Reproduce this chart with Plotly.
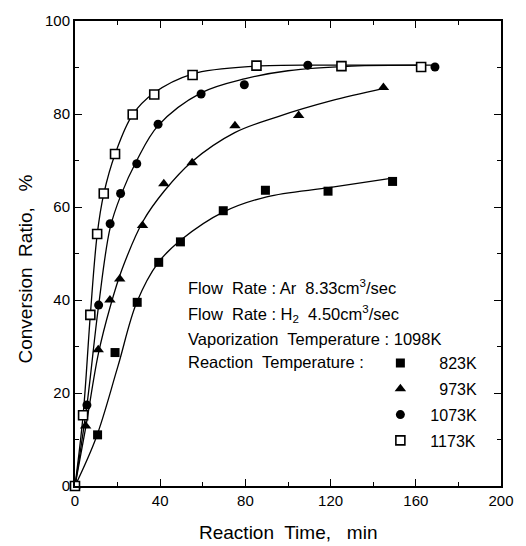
import plotly.graph_objects as go

# Measured points
# 823K (filled squares)
t823 = [0, 10.6, 18.8, 29.2, 39.3, 49.5, 69.6, 89.4, 118.8, 149.1]
c823 = [0, 11.0, 28.7, 39.5, 48.1, 52.5, 59.2, 63.6, 63.4, 65.5]
# 973K (filled triangles)
t973 = [0, 5.0, 10.9, 16.4, 21.0, 31.7, 41.7, 55.0, 75.1, 105.0, 144.8]
c973 = [0, 12.9, 29.3, 40.0, 44.5, 56.0, 65.0, 69.5, 77.5, 79.7, 85.7]
# 1073K (filled circles)
t1073 = [0, 5.6, 11.1, 16.5, 21.4, 29.0, 39.0, 59.2, 79.5, 109.3, 169.0]
c1073 = [0, 17.4, 38.9, 56.4, 62.9, 69.3, 77.8, 84.3, 86.3, 90.5, 90.1]
# 1173K (open squares)
t1173 = [0, 3.8, 7.2, 10.4, 13.5, 18.8, 27.1, 37.2, 55.2, 85.2, 125.1, 162.5]
c1173 = [0, 15.2, 36.8, 54.2, 62.9, 71.4, 79.9, 84.2, 88.4, 90.4, 90.3, 90.1]

# Fitted curves
fit823_t = [0, 10, 20, 29, 39, 50, 70, 90, 120, 149]
fit823_c = [0, 10.5, 25.5, 39.5, 48, 53, 59, 62.2, 64.2, 66.2]
fit973_t = [0, 5, 11, 16.5, 22, 32, 42, 55, 75, 95, 120, 145]
fit973_c = [0, 12.5, 28.5, 38.5, 46.5, 57, 63.5, 69.8, 76, 79.4, 82.8, 85.5]
fit1073_t = [0, 5.6, 11, 16.5, 21.5, 29, 39, 59, 80, 100, 130, 169]
fit1073_c = [0, 17.4, 38.5, 55.5, 62.5, 70, 77.5, 84.5, 87.6, 89.3, 90.3, 90.5]
fit1173_t = [0, 3.8, 7.2, 10.4, 13.5, 19, 27, 37, 55, 85, 125, 163]
fit1173_c = [0, 15.2, 36.8, 54, 62.8, 71.6, 79.8, 84.5, 88.6, 90.3, 90.5, 90.5]

labels = ["\u2007823K", "\u2007973K", "1073K", "1173K"]
xticks = [0, 40, 80, 120, 160, 200]
yticks = [0, 20, 40, 60, 80, 100]

FONT = "Arial, Liberation Sans, sans-serif"

series = [
    (t823, c823, fit823_t, fit823_c, labels[0], dict(symbol="square", size=9, color="black")),
    (t973, c973, fit973_t, fit973_c, labels[1], dict(symbol="triangle-up", size=10, color="black")),
    (t1073, c1073, fit1073_t, fit1073_c, labels[2], dict(symbol="circle", size=9, color="black")),
    (t1173, c1173, fit1173_t, fit1173_c, labels[3],
     dict(symbol="square", size=9, color="white", line=dict(width=1.6, color="black"))),
]

fig = go.Figure()
for i, (x, y, fx, fy, name, mk) in enumerate(series):
    fig.add_trace(go.Scatter(
        x=fx, y=fy, mode="lines", showlegend=False, hoverinfo="skip",
        line=dict(color="black", width=1.3, shape="spline", smoothing=1.0),
        cliponaxis=False,
    ))
for i, (x, y, fx, fy, name, mk) in enumerate(series):
    fig.add_trace(go.Scatter(
        x=x, y=y, name=name, mode="markers",
        marker=mk, cliponaxis=False, legendgroup=f"g{i}",
    ))

axis_common = dict(
    showline=True, linecolor="black", linewidth=2, mirror="ticks",
    ticks="inside", ticklen=7, tickwidth=1.3, tickcolor="black",
    showgrid=False, zeroline=False,
    tickfont=dict(family=FONT, size=15, color="black"),
)

fig.update_xaxes(range=[0, 200], tickvals=xticks,
                 minor=dict(ticks="inside", ticklen=4, dtick=20, tickcolor="black", tickwidth=1.2),
                 **axis_common)
fig.update_yaxes(range=[0, 100], tickvals=yticks,
                 minor=dict(ticks="inside", ticklen=4, dtick=10, tickcolor="black", tickwidth=1.2),
                 **axis_common)

W, H = 526, 546
L, R, T, B = 75, 14, 14, 60
pw, ph = W - L - R, H - T - B

txt_font = dict(family=FONT, size=16.5, color="black")
lines = [
    ("Flow  Rate : Ar  8.33cm<sup>3</sup>/sec", 284),
    ("Flow  Rate : H<sub>2</sub>  4.50cm<sup>3</sup>/sec", 311),
    ("Vaporization  Temperature : 1098K", 337),
    ("Reaction  Temperature :", 360),
]
annotations = []
for t, py in lines:
    annotations.append(dict(text=t, x=(189 - L) / pw, y=(H - B - py) / ph,
                            xref="paper", yref="paper",
                            xanchor="left", yanchor="middle", showarrow=False,
                            font=txt_font))

annotations.append(dict(text="Reaction  Time,   min", x=(293 - L) / pw, y=(H - B - 533) / ph,
                        xref="paper", yref="paper", xanchor="center", yanchor="middle",
                        showarrow=False, font=dict(family=FONT, size=19, color="black")))
annotations.append(dict(text="Conversion  Ratio,   %", x=(24 - L) / pw, y=(H - B - 266) / ph,
                        xref="paper", yref="paper", xanchor="center", yanchor="middle",
                        textangle=-90, showarrow=False,
                        font=dict(family=FONT, size=19, color="black")))

fig.update_layout(
    width=W, height=H,
    margin=dict(l=L, r=R, t=T, b=B),
    paper_bgcolor="white", plot_bgcolor="white",
    showlegend=True,
    legend=dict(x=(378 - L) / pw, y=(H - B - 344) / ph, xanchor="left", yanchor="top",
                font=dict(family=FONT, size=16, color="black"),
                bgcolor="rgba(0,0,0,0)", itemwidth=50,
                traceorder="grouped", tracegroupgap=2),
    annotations=annotations,
)

fig.write_html("out.html")
